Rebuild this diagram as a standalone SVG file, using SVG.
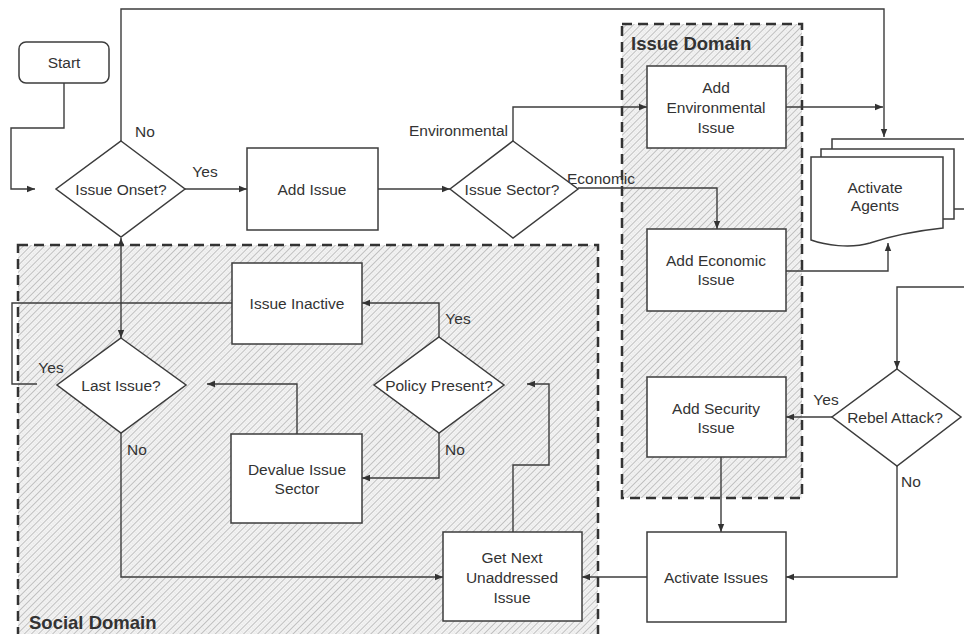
<svg xmlns="http://www.w3.org/2000/svg" width="964" height="634" viewBox="0 0 964 634">
  <defs>
    <!-- diagonal hatch used for the domain regions -->
    <pattern id="hatch" patternUnits="userSpaceOnUse" width="5" height="5" patternTransform="rotate(45)">
      <rect width="5" height="5" fill="#f3f3f3"/>
      <line x1="0.5" y1="0" x2="0.5" y2="5" stroke="#b3b3b3" stroke-width="0.8"/>
      <line x1="3" y1="0" x2="3" y2="5" stroke="#c6c6c6" stroke-width="0.6" stroke-dasharray="1 1.5"/>
    </pattern>
    <marker id="arr" viewBox="0 0 10 10" refX="10" refY="5" markerWidth="9" markerHeight="8" markerUnits="userSpaceOnUse" orient="auto-start-reverse">
      <path d="M0,1 L10,5 L0,9 Z" fill="#333"/>
    </marker>
    <style>
      .node { fill: #fff; stroke: #3c3c3c; stroke-width: 1.5; }
      .edge { fill: none; stroke: #3c3c3c; stroke-width: 1.4; }
      .arrow { marker-end: url(#arr); }
      .zone { fill: url(#hatch); stroke: #333; stroke-width: 2.5; stroke-dasharray: 10 6; }
      text { font-family: "Liberation Sans", Arial, sans-serif; font-size: 15.5px; fill: #333; text-anchor: middle; dominant-baseline: central; }
      .lbl { text-anchor: start; }
      .lblr { text-anchor: end; }
      .zl { font-weight: bold; font-size: 18.5px; text-anchor: start; }
    </style>
  </defs>

  <rect width="964" height="634" fill="#fff"/>

  <!-- domain regions -->
  <g id="social-domain">
    <rect class="zone" x="18" y="245" width="580" height="400"/>
    <text class="zl" x="29" y="622">Social Domain</text>
  </g>
  <g id="issue-domain">
    <rect class="zone" x="622" y="24" width="180" height="474"/>
    <text class="zl" x="631" y="43">Issue Domain</text>
  </g>

  <!-- connectors -->
  <g id="connectors">
    <path class="edge arrow" d="M64,83 V128 H11 V189 H35"/>
    <path class="edge arrow" d="M121,141 V9 H884 V137"/>
    <path class="edge arrow" d="M185,189 H247"/>
    <path class="edge arrow" d="M378,189 H450"/>
    <path class="edge arrow" d="M513,141 V107 H647"/>
    <path class="edge arrow" d="M578,188 H717 V229"/>
    <path class="edge arrow" d="M786,107 H883"/>
    <path class="edge arrow" d="M786,271 H888 V243"/>
    <path class="edge arrow" d="M964,287 H897 V369"/>
    <path class="edge arrow" d="M832,417 H786"/>
    <path class="edge arrow" d="M897,466 V577 H786"/>
    <path class="edge arrow" d="M721,457 V532"/>
    <path class="edge arrow" d="M647,577 H582"/>
    <path class="edge arrow" d="M513,532 V465 H549 V384 H527"/>
    <path class="edge arrow" d="M439,337 V303 H362"/>
    <path class="edge arrow" d="M439,433 V478 H362"/>
    <path class="edge arrow" d="M297,434 V384 H207"/>
    <path class="edge arrow" d="M121,433 V577 H443"/>
    <path class="edge" d="M232,303 H12 V384 H37"/>
    <path class="edge arrow" d="M121,238 V338" marker-start="url(#arr)"/>
    <path class="edge" d="M954,180 H964"/>

    <text x="145" y="131">No</text>
    <text x="205" y="171">Yes</text>
    <text class="lblr" x="508" y="130">Environmental</text>
    <text class="lbl" x="567" y="178">Economic</text>
    <text x="826" y="399">Yes</text>
    <text x="911" y="481">No</text>
    <text x="51" y="367">Yes</text>
    <text x="137" y="449">No</text>
    <text x="458" y="318">Yes</text>
    <text x="455" y="449">No</text>
  </g>

  <!-- nodes -->
  <g id="start">
    <rect class="node" x="19" y="42" width="90" height="41" rx="7"/>
    <text x="64" y="62">Start</text>
  </g>
  <g id="issue-onset">
    <path class="node" d="M121,141 L185,189 L121,237 L56,189 Z"/>
    <text x="121" y="189">Issue Onset?</text>
  </g>
  <g id="add-issue">
    <rect class="node" x="247" y="148" width="131" height="82"/>
    <text x="312" y="189">Add Issue</text>
  </g>
  <g id="issue-sector">
    <path class="node" d="M513,141 L578,189 L513,238 L450,189 Z"/>
    <text x="512" y="189">Issue Sector?</text>
  </g>
  <g id="add-environmental">
    <rect class="node" x="647" y="66" width="139" height="82"/>
    <text x="716" y="87">Add</text>
    <text x="716" y="107">Environmental</text>
    <text x="716" y="127">Issue</text>
  </g>
  <g id="add-economic">
    <rect class="node" x="647" y="229" width="139" height="82"/>
    <text x="716" y="260">Add Economic</text>
    <text x="716" y="279">Issue</text>
  </g>
  <g id="activate-agents">
    <rect class="node" x="832" y="139" width="145" height="70"/>
    <rect class="node" x="821" y="149" width="133" height="70"/>
    <path class="node" d="M811,157 H943 V228 C905,232 885,238 870,243 C850,249 825,245 811,240 Z"/>
    <text x="875" y="187">Activate</text>
    <text x="875" y="205">Agents</text>
  </g>
  <g id="rebel-attack">
    <path class="node" d="M897,369 L961,417 L897,466 L832,417 Z"/>
    <text x="895" y="417">Rebel Attack?</text>
  </g>
  <g id="add-security">
    <rect class="node" x="647" y="377" width="139" height="80"/>
    <text x="716" y="408">Add Security</text>
    <text x="716" y="427">Issue</text>
  </g>
  <g id="activate-issues">
    <rect class="node" x="647" y="532" width="139" height="90"/>
    <text x="716" y="577">Activate Issues</text>
  </g>
  <g id="get-next">
    <rect class="node" x="443" y="532" width="139" height="89"/>
    <text x="512" y="557">Get Next</text>
    <text x="512" y="577">Unaddressed</text>
    <text x="512" y="597">Issue</text>
  </g>
  <g id="issue-inactive">
    <rect class="node" x="232" y="263" width="130" height="81"/>
    <text x="297" y="303">Issue Inactive</text>
  </g>
  <g id="last-issue">
    <path class="node" d="M121,338 L186,385 L121,433 L57,385 Z"/>
    <text x="121" y="385">Last Issue?</text>
  </g>
  <g id="policy-present">
    <path class="node" d="M439,337 L504,385 L439,433 L374,385 Z"/>
    <text x="439" y="385">Policy Present?</text>
  </g>
  <g id="devalue-sector">
    <rect class="node" x="231" y="434" width="131" height="89"/>
    <text x="297" y="469">Devalue Issue</text>
    <text x="297" y="488">Sector</text>
  </g>
</svg>
